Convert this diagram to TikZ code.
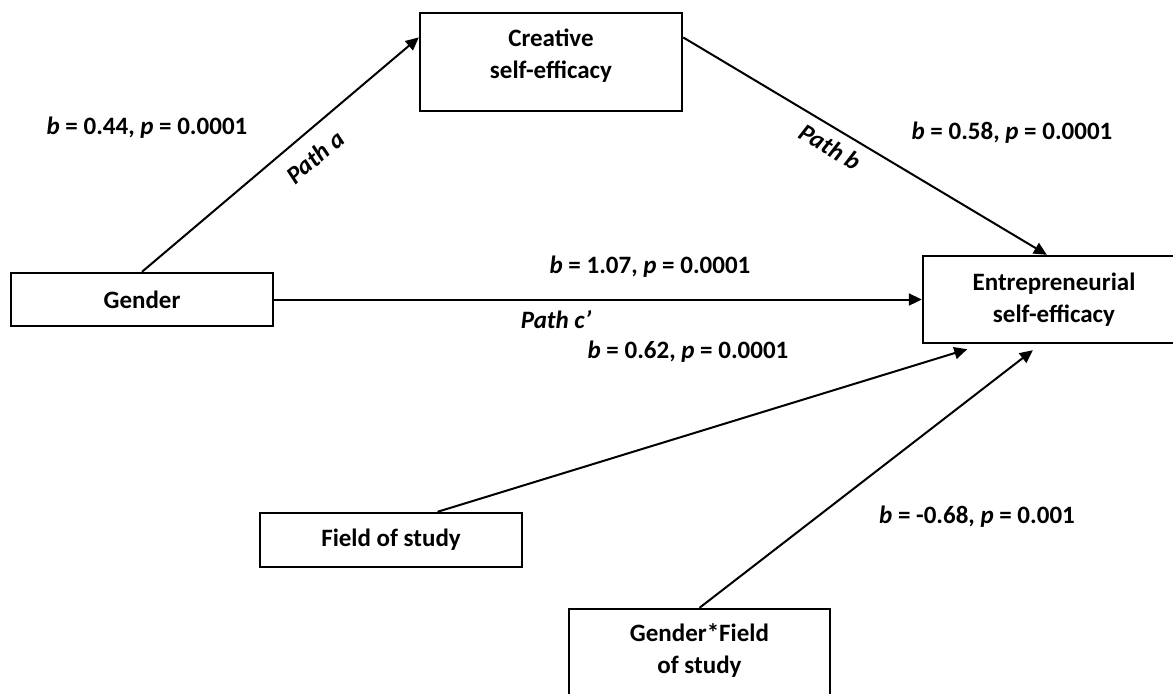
\documentclass[tikz,border=0pt]{standalone}
\usepackage{fontspec}
\setmainfont{Carlito}
\usetikzlibrary{arrows.meta,calc}
\begin{document}
\begin{tikzpicture}[x=0.5pt,y=-0.5pt,
  box/.style={draw,line width=1.2pt,inner sep=0pt,font=\bfseries\fontsize{12.5}{16}\selectfont,align=center},
  lbl/.style={font=\bfseries\fontsize{12.5}{16}\selectfont,inner sep=0pt},
  conn/.style={line width=1pt,-{Triangle[length=6.5pt,width=6pt]}}]
\clip (0,0) rectangle (1173,693);
% boxes
\node[box,minimum width=131pt,minimum height=26.5pt] (gen) at (142,299.5) {Gender};
\node[box,minimum width=131pt,minimum height=49pt] (cre) at (551,62) {};
\node[lbl,align=center] (creT) at (551,56) {Creative\\self-efficacy};
\node[box,minimum width=131pt,minimum height=43.5pt] (ent) at (1054,299.5) {Entrepreneurial\\self-efficacy};
\node[box,minimum width=131pt,minimum height=27pt] (fos) at (391,540) {Field of study};
\node[box,minimum width=130.5pt,minimum height=46pt] (gf) at (699.5,655) {};
\node[lbl,align=center] (gfT) at (699.5,651) {Gender*Field\\of study};
% connectors
\draw[conn] (gen.north) -- ($(cre.north west)!0.255!(cre.south west)$);
\draw[conn] ($(cre.north east)!0.255!(cre.south east)$) -- ($(ent.north west)!0.473!(ent.north east)$);
\draw[conn] (gen.east) -- (ent.west);
\draw[conn] ($(fos.north west)!0.676!(fos.north east)$) -- ($(ent.south west)!0.172!(ent.south east)+(0,5)$);
\draw[conn] (gf.north) -- ($(ent.south west)!0.42!(ent.south east)+(0,6)$);
% labels
\node[lbl] (l1) at (147,128) {\textit{b} = 0.44, \textit{p} = 0.0001};
\node[lbl,rotate=40.2] (pa) at (315,157) {\textit{Path a}};
\node[lbl,rotate=-30.8] (pb) at (830,147) {\textit{Path b}};
\node[lbl] (l2) at (1012,133) {\textit{b} = 0.58, \textit{p} = 0.0001};
\node[lbl] (l3) at (650,267) {\textit{b} = 1.07, \textit{p} = 0.0001};
\node[lbl] (pc) at (556,320) {\textit{Path c’}};
\node[lbl] (l4) at (688,352) {\textit{b} = 0.62, \textit{p} = 0.0001};
\node[lbl] (l5) at (977,517) {\textit{b} = -0.68, \textit{p} = 0.001};
\end{tikzpicture}
\end{document}
